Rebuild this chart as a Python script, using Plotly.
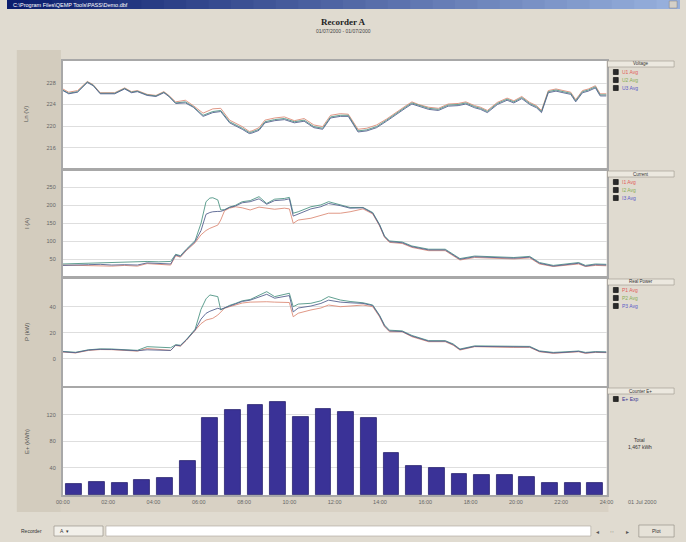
import plotly.graph_objects as go

W, H = 686, 542

# ---------------- data ----------------
volt_hours = [0.00, 0.26, 0.65, 1.08, 1.34, 1.65, 2.29, 2.73, 3.03, 3.29,
              3.72, 4.11, 4.46, 4.68, 4.98, 5.41, 5.76, 6.19, 6.62, 6.97,
              7.36, 7.62, 7.92, 8.23, 8.35, 8.66, 8.92, 9.35, 9.78, 10.22,
              10.65, 11.08, 11.47, 11.82, 12.25, 12.60, 12.81, 13.03, 13.42, 13.85,
              14.29, 14.72, 15.15, 15.41, 15.71, 16.15, 16.58, 17.01, 17.45, 17.79,
              18.18, 18.44, 18.74, 19.18, 19.61, 19.91, 20.26, 20.61, 20.91, 21.13,
              21.43, 21.77, 22.08, 22.42, 22.64, 22.94, 23.20, 23.51, 23.72, 24.00]
u1_avg = [226.9, 226.3, 226.6, 228.3, 227.7, 226.2, 226.2, 227.1, 226.4, 226.6,
          225.9, 225.7, 226.4, 225.7, 224.5, 224.8, 223.8, 222.4, 223.2, 223.3,
          221.1, 220.6, 219.9, 219.0, 219.1, 219.7, 221.1, 221.5, 221.7, 221.0,
          221.4, 220.2, 219.9, 222.0, 222.3, 222.2, 220.7, 219.4, 219.6, 220.2,
          221.3, 222.6, 223.8, 224.5, 224.0, 223.5, 223.3, 224.1, 224.2, 224.5,
          223.8, 223.5, 222.9, 224.4, 225.2, 224.7, 225.5, 224.4, 223.8, 222.9,
          226.6, 226.9, 226.6, 226.3, 224.9, 226.6, 226.9, 227.5, 226.0, 226.0]
u2_avg = [226.7, 226.1, 226.4, 228.2, 227.6, 226.1, 226.1, 227.0, 226.3, 226.5,
          225.8, 225.6, 226.3, 225.6, 224.3, 224.5, 223.6, 222.0, 222.7, 222.9,
          220.8, 220.3, 219.6, 218.8, 218.9, 219.4, 220.8, 221.2, 221.4, 220.8,
          221.1, 219.9, 219.6, 221.7, 222.0, 222.0, 220.5, 219.1, 219.3, 219.9,
          221.1, 222.4, 223.6, 224.3, 223.9, 223.3, 223.1, 223.9, 224.0, 224.3,
          223.6, 223.3, 222.7, 224.2, 225.0, 224.5, 225.3, 224.2, 223.6, 222.7,
          226.4, 226.7, 226.4, 226.1, 224.7, 226.4, 226.7, 227.3, 225.8, 225.8]
u3_avg = [226.6, 226.0, 226.3, 228.1, 227.5, 226.0, 226.0, 226.9, 226.2, 226.4,
          225.7, 225.5, 226.2, 225.5, 224.2, 224.3, 223.5, 221.8, 222.5, 222.7,
          220.6, 220.1, 219.4, 218.6, 218.7, 219.2, 220.6, 221.0, 221.2, 220.6,
          220.9, 219.7, 219.4, 221.5, 221.8, 221.8, 220.3, 218.9, 219.1, 219.7,
          220.9, 222.2, 223.4, 224.1, 223.7, 223.1, 222.9, 223.7, 223.8, 224.1,
          223.4, 223.1, 222.5, 224.0, 224.8, 224.3, 225.1, 224.0, 223.4, 222.5,
          226.2, 226.5, 226.2, 225.9, 224.5, 226.2, 226.5, 227.1, 225.6, 225.6]

ip_hours = [0.00, 0.56, 1.13, 1.65, 2.16, 2.73, 3.29, 3.72, 4.24, 4.76,
            4.98, 5.19, 5.45, 5.84, 6.10, 6.32, 6.49, 6.62, 6.84, 6.97,
            7.14, 7.36, 7.62, 7.92, 8.27, 8.66, 9.00, 9.35, 9.78, 10.00,
            10.17, 10.39, 10.95, 11.39, 11.73, 12.25, 12.68, 13.25, 13.68, 13.98,
            14.20, 14.42, 14.98, 15.41, 16.15, 16.88, 17.23, 17.53, 18.18, 19.05,
            19.91, 20.61, 21.04, 21.65, 22.21, 22.77, 23.07, 23.51, 24.00]
i1_avg = [34, 33, 33, 32, 31, 33, 31, 38, 36, 34,
          60, 56, 74, 96, 118, 130, 136, 140, 145, 159,
          185, 192, 196, 193, 187, 195, 192, 189, 192, 190,
          150, 159, 164, 173, 178, 178, 182, 190, 176, 143,
          111, 97, 94, 83, 74, 74, 60, 48, 55, 52,
          51, 54, 37, 30, 33, 37, 30, 33, 32]
i2_avg = [37, 38, 40, 41, 41, 42, 42, 44, 43, 44,
          64, 60, 78, 102, 150, 210, 220, 221, 215, 187,
          188, 195, 200, 210, 213, 224, 205, 217, 219, 222,
          178, 182, 196, 201, 210, 201, 194, 194, 180, 147,
          115, 101, 98, 87, 78, 78, 63, 52, 59, 56,
          55, 58, 41, 33, 36, 41, 33, 37, 36]
i3_avg = [33, 35, 35, 36, 34, 35, 34, 40, 38, 37,
          62, 58, 76, 99, 130, 175, 180, 182, 183, 183,
          187, 194, 198, 207, 210, 218, 203, 213, 215, 218,
          170, 176, 190, 196, 205, 199, 192, 193, 178, 145,
          113, 99, 96, 85, 76, 76, 62, 50, 57, 54,
          53, 56, 39, 31, 34, 39, 31, 35, 34]
p1_avg = [5.3, 4.6, 6.5, 7.2, 7.1, 6.4, 6.0, 8.0, 7.5, 6.6,
          10.3, 9.8, 14.2, 21.6, 27.0, 29.8, 30.5, 31.1, 33.6, 36.0,
          38.8, 40.0, 41.5, 42.8, 43.5, 43.8, 43.8, 43.5, 43.0, 43.2,
          32.3, 35.0, 37.5, 39.0, 41.3, 40.0, 40.5, 41.3, 40.0, 32.3,
          24.7, 20.8, 20.8, 17.0, 13.2, 13.2, 10.5, 6.8, 9.4, 9.0,
          8.8, 8.9, 5.5, 4.3, 4.8, 5.5, 4.3, 5.0, 4.8]
p2_avg = [5.8, 5.1, 7.0, 7.7, 7.6, 6.9, 6.6, 9.4, 8.8, 8.6,
          10.9, 10.5, 14.8, 22.8, 38.0, 46.0, 49.0, 48.5, 47.7, 37.5,
          39.2, 41.0, 42.5, 44.5, 45.5, 49.0, 51.5, 47.7, 49.7, 50.3,
          40.0, 42.0, 42.6, 44.5, 47.7, 45.1, 44.0, 43.0, 41.3, 33.5,
          26.0, 22.0, 21.5, 18.0, 14.0, 14.0, 11.5, 7.6, 10.0, 9.8,
          9.6, 9.6, 6.2, 5.0, 5.5, 6.1, 5.0, 5.6, 5.4]
p3_avg = [5.5, 4.8, 6.8, 7.4, 7.3, 6.5, 6.3, 7.0, 6.8, 6.5,
          10.6, 10.1, 14.5, 22.1, 30.5, 34.9, 36.5, 37.5, 38.8, 38.0,
          39.0, 40.5, 42.0, 44.0, 45.0, 47.5, 49.5, 46.5, 48.0, 48.5,
          36.0, 39.0, 40.5, 42.5, 45.0, 43.5, 43.0, 42.5, 40.8, 33.0,
          25.3, 21.4, 21.0, 17.5, 13.6, 13.6, 11.0, 7.2, 9.6, 9.4,
          9.2, 9.2, 5.8, 4.6, 5.1, 5.8, 4.6, 5.3, 5.1]

energy_hours = [0, 1, 2, 3, 4, 5, 6, 7, 8, 9, 10, 11,
                12, 13, 14, 15, 16, 17, 18, 19, 20, 21, 22, 23]
energy_kwh = [15.4, 19.3, 17.4, 22.4, 24.4, 51.0, 116.0, 127.5, 135.0, 139.0, 116.5, 128.6,
              125.0, 116.0, 62.6, 43.5, 40.0, 30.5, 29.4, 29.4, 26.0, 17.4, 17.4, 17.0]

time_ticks = [0, 2, 4, 6, 8, 10, 12, 14, 16, 18, 20, 22, 24]
time_labels = ["00:00", "02:00", "04:00", "06:00", "08:00", "10:00", "12:00",
               "14:00", "16:00", "18:00", "20:00", "22:00", "24:00"]
volt_ticks = [216, 220, 224, 228]
curr_ticks = [50, 100, 150, 200, 250]
power_ticks = [0, 20, 40]
energy_ticks = [40, 80, 120]

# ---------------- styling ----------------
C1, C2, C3 = "#dc8c78", "#4f9585", "#56628e"
LEG1, LEG2, LEG3 = "#e0605a", "#8aae55", "#5a5ac8"
FRAME = "#a8a8a8"
GRID = "#dedede"
FONT = "Liberation Sans, Arial, sans-serif"
TICKF = dict(family=FONT, size=5.5, color="#666666")


def px(x):
    return x / W


def py(y):
    return 1 - y / H


def note(x, y, text, size=5, color="#333333", xanchor="center", family=FONT, angle=0):
    return dict(x=px(x), y=py(y), xref="paper", yref="paper", text=text, showarrow=False,
                xanchor=xanchor, yanchor="middle", textangle=angle,
                font=dict(family=family, size=size, color=color))


xdom = [px(57), px(612)]
panels = [(61, 168), (171, 276), (279, 386), (388, 495)]
yranges = [[212.2, 232.1], [3.6, 295.3], [-20.7, 61.2], [-0.75, 160.7]]
yticks = [volt_ticks, curr_ticks, power_ticks, energy_ticks]
ytitles = ["Ln (V)", "I (A)", "P (kW)", "E+ (kWh)"]

fig = go.Figure()

for ys, col in [(u1_avg, C1), (u2_avg, C2), (u3_avg, C3)]:
    fig.add_trace(go.Scatter(x=volt_hours, y=ys, mode="lines", xaxis="x", yaxis="y",
                             line=dict(color=col, width=0.9), hoverinfo="skip"))
for ys, col in [(i1_avg, C1), (i2_avg, C2), (i3_avg, C3)]:
    fig.add_trace(go.Scatter(x=ip_hours, y=ys, mode="lines", xaxis="x2", yaxis="y2",
                             line=dict(color=col, width=0.9), hoverinfo="skip"))
for ys, col in [(p1_avg, C1), (p2_avg, C2), (p3_avg, C3)]:
    fig.add_trace(go.Scatter(x=ip_hours, y=ys, mode="lines", xaxis="x3", yaxis="y3",
                             line=dict(color=col, width=0.9), hoverinfo="skip"))
fig.add_trace(go.Bar(x=[h + 0.5 for h in energy_hours], y=energy_kwh, xaxis="x4", yaxis="y4",
                     width=0.7, marker=dict(color="#3a3297", line=dict(color="#29236e", width=0.8)),
                     hoverinfo="skip"))

layout = dict(width=W, height=H, margin=dict(l=0, r=0, t=0, b=0), autosize=False,
              paper_bgcolor="#e0dbd0", plot_bgcolor="white", showlegend=False, bargap=0)

for k in range(4):
    sfx = "" if k == 0 else str(k + 1)
    top, bot = panels[k]
    layout["xaxis" + sfx] = dict(domain=xdom, range=[0, 24], anchor="y" + sfx,
                                 showgrid=False, zeroline=False, showline=True, mirror=True,
                                 linecolor=FRAME, linewidth=2, ticks="",
                                 tickvals=time_ticks, ticktext=time_labels,
                                 showticklabels=(k == 3), tickfont=TICKF, fixedrange=True)
    layout["yaxis" + sfx] = dict(domain=[py(bot), py(top)], range=yranges[k], anchor="x" + sfx,
                                 tickvals=yticks[k], ticks="", showgrid=True, gridcolor=GRID,
                                 gridwidth=1, zeroline=False, showline=True, mirror=True,
                                 linecolor=FRAME, linewidth=2, tickfont=TICKF, fixedrange=True,
                                 ticklabelstandoff=4)

shapes = []
annotations = []

# title bar gradient
n = 30
c0, c1 = (12, 30, 110), (150, 175, 220)
for j in range(n):
    f = j / (n - 1)
    col = "rgb(%d,%d,%d)" % tuple(int(c0[i] + (c1[i] - c0[i]) * f) for i in range(3))
    shapes.append(dict(type="rect", xref="paper", yref="paper", x0=px(j * W / n), x1=px((j + 1) * W / n + 1),
                       y0=py(9), y1=py(0), fillcolor=col, line=dict(width=0), layer="below"))
shapes.append(dict(type="rect", xref="paper", yref="paper", x0=px(676), x1=px(684), y0=py(8), y1=py(1),
                   fillcolor="#d4d0c8", line=dict(color="#808080", width=0.5)))
annotations.append(note(4, 4.5, "C:\\Program Files\\QEMP Tools\\PASS\\Demo.dbf", size=5.5,
                        color="white", xanchor="left"))

# left label strip and bottom tick strip
shapes.append(dict(type="rect", xref="paper", yref="paper", x0=px(10), x1=px(55), y0=py(512), y1=py(50),
                   fillcolor="#d3ccbe", line=dict(width=0), layer="below"))
shapes.append(dict(type="rect", xref="paper", yref="paper", x0=px(55), x1=px(614), y0=py(512), y1=py(497),
                   fillcolor="#d8d1c4", line=dict(width=0), layer="below"))

# chart title
annotations.append(note(343, 22, "<b>Recorder A</b>", size=9, color="#222222",
                        family="Liberation Serif, Times New Roman, serif"))
annotations.append(note(343, 31, "01/07/2000 - 01/07/2000", size=5, color="#444444"))

# y axis titles
for k in range(4):
    top, bot = panels[k]
    annotations.append(note(20, (top + bot) / 2, ytitles[k], size=6, color="#555555", angle=-90))

annotations.append(note(648, 502, "01 Jul 2000", size=5.5, color="#666666"))

# right side legend panel
sections = [
    ("Voltage", 61, [("U1 Avg", LEG1), ("U2 Avg", LEG2), ("U3 Avg", LEG3)]),
    ("Current", 171, [("I1 Avg", LEG1), ("I2 Avg", LEG2), ("I3 Avg", LEG3)]),
    ("Real Power", 279, [("P1 Avg", LEG1), ("P2 Avg", LEG2), ("P3 Avg", LEG3)]),
    ("Counter E+", 388, [("E+ Exp", "#3b3494")]),
]
for name, top, items in sections:
    shapes.append(dict(type="rect", xref="paper", yref="paper", x0=px(613), x1=px(681),
                       y0=py(top + 6), y1=py(top), fillcolor="#ece8df",
                       line=dict(color="#9c968c", width=0.6)))
    annotations.append(note(647, top + 3, name, size=4.5))
    for j, (lab, col) in enumerate(items):
        yc = top + 11 + j * 8
        shapes.append(dict(type="rect", xref="paper", yref="paper", x0=px(619), x1=px(624),
                           y0=py(yc + 2.5), y1=py(yc - 2.5), fillcolor="#2a2a2a",
                           line=dict(color="#000000", width=0.6)))
        annotations.append(note(626, yc, lab, size=5, color=col, xanchor="left"))

total_kwh = sum(energy_kwh)
annotations.append(note(646, 440, "Total", size=5))
annotations.append(note(646, 447, "{:,.0f} kWh".format(total_kwh), size=5))

# bottom status / scroll bar
annotations.append(note(12, 531, "Recorder", size=5, xanchor="left"))
shapes.append(dict(type="rect", xref="paper", yref="paper", x0=px(48), x1=px(98), y0=py(536), y1=py(526),
                   fillcolor="#f2f0ea", line=dict(color="#8c877e", width=0.6)))
annotations.append(note(52, 531, "A  ▾", size=5, xanchor="left"))
shapes.append(dict(type="rect", xref="paper", yref="paper", x0=px(101), x1=px(596), y0=py(536), y1=py(526),
                   fillcolor="#ffffff", line=dict(color="#a8a399", width=0.6)))
for xb, t in [(603, "◂"), (618, "··"), (633, "▸")]:
    annotations.append(note(xb, 531, t, size=6, color="#555555", family="DejaVu Sans"))
shapes.append(dict(type="rect", xref="paper", yref="paper", x0=px(645), x1=px(681), y0=py(537), y1=py(525),
                   fillcolor="#e6e2d8", line=dict(color="#8c877e", width=0.6)))
annotations.append(note(663, 531, "Plot", size=5))

layout["shapes"] = shapes
layout["annotations"] = annotations
fig.update_layout(**layout)
fig.write_html("out.html", config={"displayModeBar": False},
               post_script="document.body.style.margin='0';document.body.style.overflow='hidden';")
